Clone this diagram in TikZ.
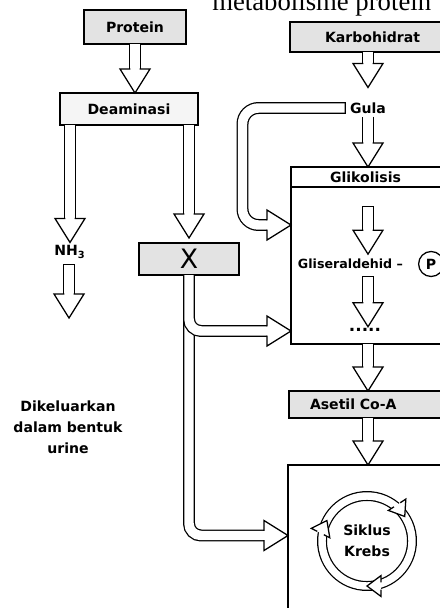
\documentclass[tikz,border=0pt]{standalone}
\usepackage{fontspec}
\setmainfont{DejaVu Sans}
\newfontfamily\judulfont{Liberation Serif}
\usetikzlibrary{positioning,decorations.markings}

% kepala panah berongga (dipasang di ujung jalur)
\newcommand{\panah}{%
  \fill[white, sharp corners] (-6mm,-1.5mm) -- (-6mm,-3.75mm) -- (0,0) -- (-6mm,3.75mm) -- (-6mm,1.5mm) -- cycle;
  \draw[sharp corners, line width=0.9pt, line join=miter, line cap=rect] (-6mm,-1.34mm) -- (-6mm,-3.75mm) -- (0,0) -- (-6mm,3.75mm) -- (-6mm,1.34mm);}
\newcommand{\panahkecil}{%
  \fill[white, sharp corners] (-3.5mm,-1.25mm) -- (-3.5mm,-2.6mm) -- (0,0) -- (-3.5mm,2.6mm) -- (-3.5mm,1.25mm) -- cycle;
  \draw[sharp corners, line width=0.9pt, line join=miter, line cap=rect] (-3.5mm,-1.09mm) -- (-3.5mm,-2.6mm) -- (0,0) -- (-3.5mm,2.6mm) -- (-3.5mm,1.09mm);}

\tikzset{
  kotak/.style={draw, line width=1pt, fill=gray!22, inner sep=0pt, outer sep=0pt, align=center},
  kotakpinggir/.style={kotak, anchor=west, align=left, text width=35mm, inner xsep=#1, inner ysep=0pt},
  bingkai/.style={draw, line width=1pt, outer sep=0pt, anchor=north west, minimum width=40mm},
  teks/.style={inner sep=2pt, align=center},
  flow/.style={rounded corners=3mm,
    preaction={draw, line width=0.9pt, double=white, double distance=2.36mm, line cap=#1, shorten >=5.9mm},
    postaction={decorate, decoration={markings, mark=at position 1 with {\panah}}}},
  flow/.default=butt,
  ring/.style={draw, line width=0.9pt, double=white, double distance=1.86mm},
  ringtip/.style={postaction={decorate, decoration={markings, mark=at position 1 with {\panahkecil}}}}
}

\begin{document}
\begin{tikzpicture}[x=0.25mm, y=-0.25mm, every node/.style={font=\bfseries\fontsize{10}{15}\selectfont}]
  \useasboundingbox (0,0) rectangle (440,608);
  \clip (0,0) rectangle (440,608);
  \fill[white] (0,0) rectangle (440,608);

  % judul yang terpotong di atas
  \node[anchor=base west, inner sep=0pt, font=\judulfont\fontsize{19}{20}\selectfont] (judul) at (212,10) {metabolisme protein};

  % jalur protein
  \node[kotak, minimum width=25.5mm, minimum height=8.5mm] (protein) at (135,27) {Protein};
  \node[kotak, fill=gray!8, minimum width=34.5mm, minimum height=8mm] (deam) at (129,109) {Deaminasi};
  \node[teks] (nh3) at (70,252) {NH\textsubscript{3}};
  \node[teks] (urine) at (68,427) {Dikeluarkan\\dalam bentuk\\urine};
  \node[kotak, minimum width=25mm, minimum height=8mm, font=\fontsize{19}{20}\selectfont] (xbox) at (189,259) {X};
  \coordinate (n1) at (69,270);
  \coordinate (n2) at (69,318);

  % jalur karbohidrat
  \node[kotakpinggir=8.75mm, minimum height=7.5mm] (karbo) at (290,37) {Karbohidrat};
  \node[teks] (gula) at (368,108) {Gula};
  \node[kotakpinggir=9.75mm, fill=white, minimum height=5mm] (glik) at (291,177) {Glikolisis};
  \node[bingkai, minimum height=39.25mm] (gbody) at (glik.south west) {};
  \node[anchor=west, font=\bfseries\fontsize{9}{10}\selectfont] (glis) at (293,264) {Gliseraldehid –};
  \node[draw, circle, line width=0.9pt, minimum size=6.25mm, inner sep=0pt, right=2.5mm of glis] (fosfat) {P};
  \node[inner sep=1pt, font=\bfseries\fontsize{12}{12}\selectfont] (titik) at (365,330) {.....};
  \coordinate (g1) at (368,212);
  \coordinate (g2) at (368,282);
  \node[kotakpinggir=5.25mm, minimum height=6.75mm] (asetil) at (289,404.5) {Asetil Co-A};
  \node[bingkai, minimum height=37.5mm] (krebs) at (288,465) {};
  \node[teks] (siklus) at (367,541) {Siklus\\Krebs};
  \coordinate (gulabend) at (242.5,225);
  \coordinate (gbend) at (189,331);
  \coordinate (kbend) at (189,535.5);

  % panah
  \path[flow] (protein.south) -- (protein.south |- deam.north);
  \path[flow] (deam.south -| nh3) -- (nh3.north);
  \path[flow] (deam.south -| xbox) -- ([yshift=1.25mm]xbox.north);
  \path[flow=rect] (n1) -- (n2);
  \path[flow] (gula |- karbo.south) -- ([yshift=3mm]gula.north);
  \path[flow] (gula.south) -- (gula |- glik.north);
  \path[flow=rect, rounded corners=4mm] ([xshift=-1.75mm]gula.west) -- (gula.west -| gulabend) -- (gulabend) -- (gulabend -| gbody.west);
  \path[flow=rect] (g1) -- (g1 |- glis.north);
  \path[flow=rect] (g2) -- (g2 |- titik.north);
  \path[flow] (g1 |- gbody.south) -- (g1 |- asetil.north);
  \path[flow] (g1 |- asetil.south) -- (g1 |- krebs.north);
  \path[flow] (xbox.south) -- (kbend) -- (kbend -| krebs.west);
  \path[flow] (xbox.south) -- (gbend) -- (gbend -| gbody.west);

  % siklus krebs
  \draw[ring] (siklus.center) circle[radius=45];
  \foreach \a in {-33,90,207}
    \path[ringtip] ([shift={(\a-40:45)}]siklus.center) arc[start angle=\a-40, end angle=\a, radius=45];
\end{tikzpicture}
\end{document}
